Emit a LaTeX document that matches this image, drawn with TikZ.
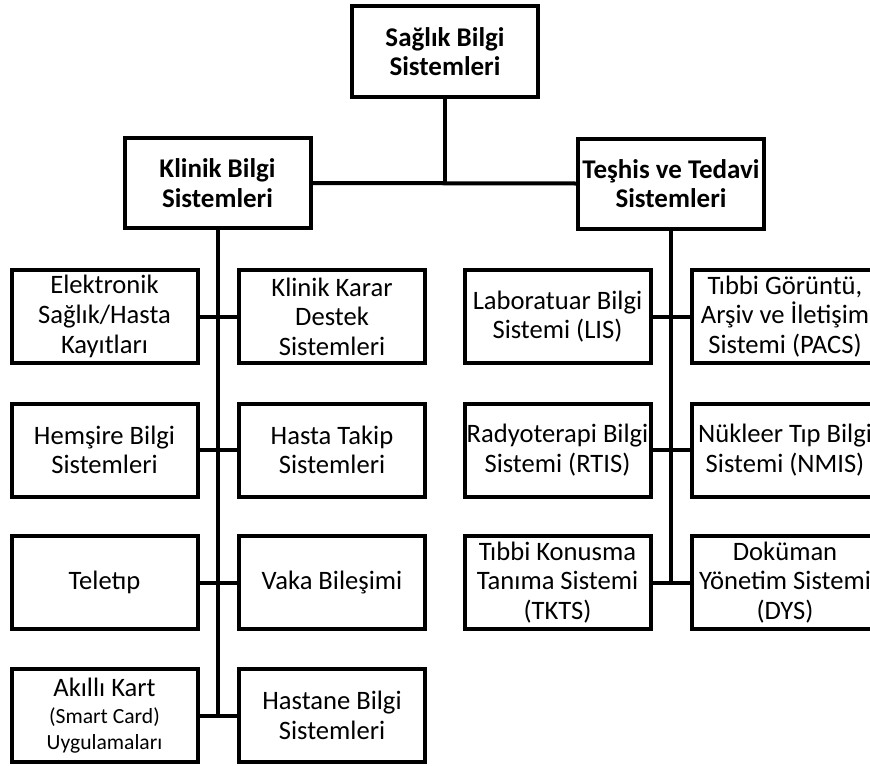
\documentclass[tikz,border=0pt]{standalone}
\usepackage{fontspec}
\setmainfont{Carlito}
\newcommand{\smalltxt}{\fontsize{10.8}{11.5}\selectfont}
\tikzset{
  sysbox/.style={draw, line width=2pt, minimum width=93pt, minimum height=46.5pt, inner sep=0pt, align=center, font=\fontsize{13.3}{14.8}\selectfont},
  headbox/.style={sysbox, minimum height=45pt, font=\fontsize{13.5}{14.8}\selectfont\bfseries},
  link/.style={line width=2pt}
}
\begin{document}
\begin{tikzpicture}[x=0.5pt,y=-0.5pt]
\useasboundingbox (0,0) rectangle (870,765);
\clip (0,0) rectangle (870,765);
\node[headbox] (sbs) at (445,51.5) {Sağlık Bilgi\\Sistemleri};
\node[headbox] (kbs) at (217.5,183) {Klinik Bilgi\\Sistemleri};
\node[headbox] (tts) at (671,183.5) {Teşhis ve Tedavi\\Sistemleri};
\node[sysbox] (elek) at (104.5,316.5) {Elektronik\\Sağlık/Hasta\\Kayıtları};
\node[sysbox] (karar) at (332,316.5) {Klinik Karar\\Destek\\Sistemleri};
\node[sysbox] (hems) at (104.5,450) {Hemşire Bilgi\\Sistemleri};
\node[sysbox] (takip) at (332,450) {Hasta Takip\\Sistemleri};
\node[sysbox] (teletip) at (104.5,582.5) {Teletıp};
\node[sysbox] (vaka) at (332,582.5) {Vaka Bileşimi};
\node[sysbox] (akilli) at (104.5,715.5) {Akıllı Kart\\[-1pt]{\smalltxt (Smart Card)}\\[-2pt]{\smalltxt Uygulamaları}};
\node[sysbox] (hastane) at (332,715.5) {Hastane Bilgi\\Sistemleri};
\node[sysbox] (lis) at (557.5,316.5) {Laboratuar Bilgi\\Sistemi (LIS)};
\node[sysbox] (pacs) at (785,316.5) {Tıbbi Görüntü,\\Arşiv ve İletişim\\Sistemi (PACS)};
\node[sysbox] (rtis) at (557.5,450) {Radyoterapi Bilgi\\Sistemi (RTIS)};
\node[sysbox] (nmis) at (785,450) {Nükleer Tıp Bilgi\\Sistemi (NMIS)};
\node[sysbox] (tkts) at (557.5,582.5) {Tıbbi Konusma\\Tanıma Sistemi\\(TKTS)};
\node[sysbox] (dys) at (785,582.5) {Doküman\\Yönetim Sistemi\\(DYS)};
\draw[link] (sbs.south) -- (sbs.south |- kbs.east);
\draw[link] (kbs.east) -- (tts.west);
\draw[link] (kbs.south) -- (kbs.south |- akilli.east);
\draw[link] (tts.south) -- (tts.south |- tkts.east);
\draw[link] (elek.east) -- (karar.west);
\draw[link] (hems.east) -- (takip.west);
\draw[link] (teletip.east) -- (vaka.west);
\draw[link] (akilli.east) -- (hastane.west);
\draw[link] (lis.east) -- (pacs.west);
\draw[link] (rtis.east) -- (nmis.west);
\draw[link] (tkts.east) -- (dys.west);
\end{tikzpicture}
\end{document}
